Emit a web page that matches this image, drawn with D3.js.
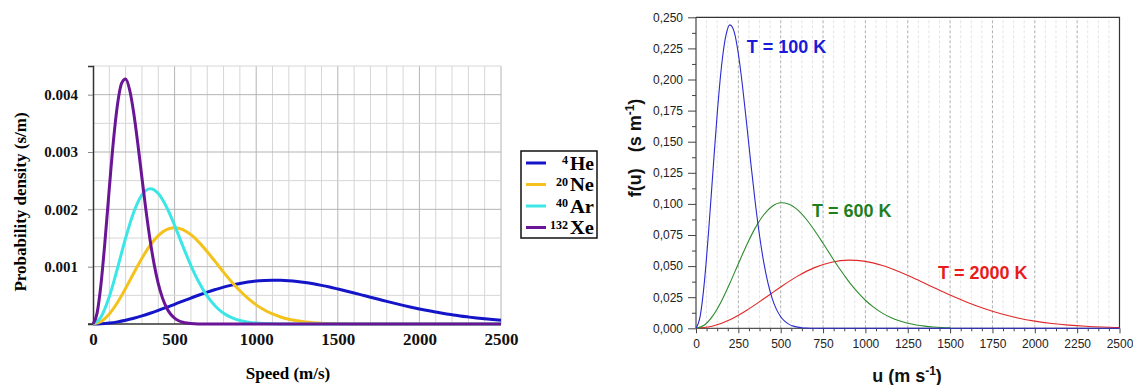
<!DOCTYPE html>
<html>
<head>
<meta charset="utf-8">
<script src="https://cdn.jsdelivr.net/npm/d3@7"></script>
<style>
  html, body { margin: 0; padding: 0; background: #fff; }
  svg { display: block; }
</style>
</head>
<body>
<div id="chart"></div>
<script>
// ---- Data ----
// Left panel: noble gases, speeds every 50 m/s from 0 to 2500
const gasSpeeds = d3.range(0, 2501, 50);
const heValues = [0, 0.0000042, 0.0000167, 0.0000372, 0.0000652, 0.0001002, 0.000141, 0.000187, 0.000237, 0.000289,
  0.000344, 0.000399, 0.000453, 0.000506, 0.000556, 0.000601, 0.000643, 0.000678, 0.000708, 0.000732,
  0.000750, 0.000760, 0.000765, 0.000763, 0.000755, 0.000742, 0.000724, 0.000701, 0.000674, 0.000644,
  0.000611, 0.000577, 0.000541, 0.000504, 0.000467, 0.000431, 0.000394, 0.000359, 0.000325, 0.000293,
  0.000263, 0.000234, 0.000208, 0.000183, 0.000161, 0.000140, 0.000122, 0.000105, 0.0000906, 0.0000776, 0.0000661];
const neValues = [0, 0.0000452, 0.000176, 0.000376, 0.000623, 0.000889, 0.001147, 0.001371, 0.001541, 0.001645,
  0.00168, 0.001648, 0.001558, 0.001424, 0.001261, 0.001083, 0.000904, 0.000733, 0.000580, 0.000446,
  0.000334, 0.000245, 0.000175, 0.000122, 0.0000828, 0.0000551, 0.0000358, 0.0000228, 0.0000141, 0.0000086,
  0.000005, 0.0000028, 0.0000015, 0, 0, 0, 0, 0, 0, 0,
  0, 0, 0, 0, 0, 0, 0, 0, 0, 0, 0];
const arValues = [0, 0.000127, 0.000478, 0.000972, 0.001500, 0.001954, 0.002254, 0.00236, 0.002277, 0.002045,
  0.001721, 0.001363, 0.001020, 0.000723, 0.000486, 0.000311, 0.000189, 0.000110, 0.0000606, 0.0000321,
  0.0000162, 0.0000078, 0.0000036, 0.0000015, 0, 0, 0, 0, 0, 0,
  0, 0, 0, 0, 0, 0, 0, 0, 0, 0,
  0, 0, 0, 0, 0, 0, 0, 0, 0, 0, 0];
// Xe is narrow, so it gets a finer speed grid
const xeSpeeds = [0, 25, 50, 75, 100, 125, 150, 175, 200, 225, 250, 275, 300, 325, 350, 375, 400, 425, 450, 475,
  500, 525, 550, 575, 600, 650, 700, 2500];
const xeValues = [0, 0.000190, 0.000723, 0.001498, 0.002370, 0.003189, 0.003826, 0.004196, 0.004272, 0.004077,
  0.003671, 0.003135, 0.002546, 0.001974, 0.001462, 0.001036, 0.000704, 0.000460, 0.000288, 0.000174,
  0.000101, 0.0000563, 0.0000302, 0.0000156, 0.0000078, 0.0000017, 0, 0];

const gasNames = ['He', 'Ne', 'Ar', 'Xe'];
const gasMass = ['4', '20', '40', '132'];
const gasColors = ['#1414c8', '#f4c21c', '#3de6e6', '#6a1496'];
const leftXTicks = [0, 500, 1000, 1500, 2000, 2500];
const leftYTicks = [0.001, 0.002, 0.003, 0.004];

// Right panel: three temperatures
const t100Speeds = [0, 25, 50, 75, 100, 125, 150, 175, 200, 225, 250, 275, 300, 325, 350, 375, 400, 425, 450, 475,
  500, 525, 550, 575, 600, 625, 650, 700, 2500];
const t100Values = [0, 0.00991, 0.0379, 0.0790, 0.1263, 0.1721, 0.2098, 0.2344, 0.2439, 0.2385,
  0.2207, 0.1942, 0.1631, 0.1310, 0.1009, 0.0746, 0.0530, 0.0363, 0.0239, 0.0152,
  0.00933, 0.00552, 0.00316, 0.00174, 0.00093, 0.00048, 0.00024, 0.00005, 0];
const t600Speeds = d3.range(0, 1501, 50);
const t600Values = [0, 0.00261, 0.01016, 0.02178, 0.03621, 0.05188, 0.06722, 0.08074, 0.09129, 0.09812,
  0.10092, 0.09980, 0.09521, 0.08787, 0.07862, 0.06831, 0.05768, 0.04742, 0.03797, 0.02965,
  0.02256, 0.01678, 0.01219, 0.00864, 0.00599, 0.00406, 0.00269, 0.00174, 0.00110, 0.00068, 0.00041];
const t2000Speeds = d3.range(0, 2501, 100);
const t2000Values = [0, 0.00178, 0.00686, 0.01452, 0.02372, 0.03325, 0.04193, 0.04878, 0.05315, 0.05478,
  0.05377, 0.05049, 0.04551, 0.03950, 0.03306, 0.02674, 0.02092, 0.01585, 0.01164, 0.00830,
  0.00574, 0.00386, 0.00252, 0.00160, 0.00099, 0.00059];

const tempLabels = ['T = 100 K', 'T = 600 K', 'T = 2000 K'];
const tempColors = ['#2a2ad0', '#2e8b2e', '#e02828'];
const tempTextColors = ['#1a1ad8', '#1f7f1f', '#e81c1c'];
const tempLabelPos = [[300, 0.2215], [685, 0.0897], [1428, 0.0394]];
const rightXTicks = d3.range(0, 2501, 250);
const rightYTicks = d3.range(0, 0.2501, 0.025);

// ---- Layout ----
const W = 1133, H = 385;
const serif = '"Liberation Serif", "Times New Roman", serif';
const sans = '"Liberation Sans", Arial, sans-serif';

const svg = d3.select('#chart').append('svg')
  .attr('width', W).attr('height', H);

// ================= Left panel =================
const xL = d3.scaleLinear().domain([0, 2500]).range([93, 501]);
const yL = d3.scaleLinear().domain([0, 0.0045]).range([324, 66]);
const left = svg.append('g');

// grid
left.selectAll('.vgrid').data(d3.range(100, 2501, 100)).enter().append('line')
  .attr('x1', d => xL(d)).attr('x2', d => xL(d))
  .attr('y1', yL(0)).attr('y2', yL(0.0045))
  .attr('stroke', d => d % 500 === 0 ? '#b4b4b4' : '#d6d6d6')
  .attr('stroke-width', 1);
left.selectAll('.hgrid').data(d3.range(0.0005, 0.00451, 0.0005)).enter().append('line')
  .attr('x1', xL(0)).attr('x2', xL(2500))
  .attr('y1', d => yL(d)).attr('y2', d => yL(d))
  .attr('stroke', d => Math.round(d * 10000) % 10 === 0 ? '#b4b4b4' : '#d6d6d6')
  .attr('stroke-width', 1);

// axes
const axL = left.append('g').attr('transform', `translate(${xL(0)},0)`)
  .call(d3.axisLeft(yL).tickValues(leftYTicks).tickSize(5).tickPadding(10).tickFormat(d3.format('.3f')));
axL.select('.domain').attr('stroke', '#333').attr('stroke-width', 1.5);
axL.selectAll('.tick line').attr('stroke', '#888');
axL.selectAll('text').style('font-family', serif).style('font-weight', 'bold').style('font-size', '15px').attr('fill', '#111');

const axB = left.append('g').attr('transform', `translate(0,${yL(0)})`)
  .call(d3.axisBottom(xL).tickValues(leftXTicks).tickSize(0).tickPadding(9).tickFormat(d3.format('d')));
axB.select('.domain').attr('stroke', '#333').attr('stroke-width', 1.5).attr('d', `M${xL(0) - 5},0H${xL(2500)}`);
axB.selectAll('text').style('font-family', serif).style('font-weight', 'bold').style('font-size', '17px').attr('fill', '#111');

// curves
const lineL = d3.line().x(d => xL(d[0])).y(d => yL(d[1])).curve(d3.curveMonotoneX);
const gasSeries = [
  d3.zip(gasSpeeds, heValues),
  d3.zip(gasSpeeds, neValues),
  d3.zip(gasSpeeds, arValues),
  d3.zip(xeSpeeds, xeValues)
];
gasSeries.forEach((s, i) => {
  left.append('path').datum(s)
    .attr('d', lineL)
    .attr('fill', 'none')
    .attr('stroke', gasColors[i])
    .attr('stroke-width', 3)
    .attr('stroke-linejoin', 'round');
});

// axis titles
left.append('text')
  .attr('transform', 'translate(26,202) rotate(-90)')
  .attr('text-anchor', 'middle')
  .style('font-family', serif).style('font-weight', 'bold').style('font-size', '17px')
  .text('Probability density (s/m)');
left.append('text')
  .attr('x', 288).attr('y', 379)
  .attr('text-anchor', 'middle')
  .style('font-family', serif).style('font-weight', 'bold').style('font-size', '17px')
  .text('Speed (m/s)');

// legend
const legend = left.append('g').attr('transform', 'translate(521,151)');
legend.append('rect')
  .attr('width', 76).attr('height', 87)
  .attr('fill', '#fff').attr('stroke', '#111').attr('stroke-width', 1.5);
gasNames.forEach((name, i) => {
  const cy = 12 + i * 21.5;
  legend.append('line')
    .attr('x1', 5).attr('x2', 25).attr('y1', cy).attr('y2', cy)
    .attr('stroke', gasColors[i]).attr('stroke-width', 3);
  legend.append('text')
    .attr('x', 47).attr('y', cy + 1)
    .attr('text-anchor', 'end')
    .style('font-family', serif).style('font-weight', 'bold').style('font-size', '12px')
    .text(gasMass[i]);
  legend.append('text')
    .attr('x', 49).attr('y', cy + 6.5)
    .attr('textLength', 24).attr('lengthAdjust', 'spacingAndGlyphs')
    .style('font-family', serif).style('font-weight', 'bold').style('font-size', '19px')
    .text(name);
});

// ================= Right panel =================
const xR = d3.scaleLinear().domain([0, 2500]).range([696, 1119.5]);
const yR = d3.scaleLinear().domain([0, 0.25]).range([328.3, 17.3]);
const right = svg.append('g');

// dashed vertical grid: light at every minor tick, darker at each labelled tick
const minorX = d3.range(62.5, 2500, 62.5).filter(d => d % 250 !== 0);
right.selectAll('.mgrid').data(minorX).enter().append('line')
  .attr('x1', d => xR(d)).attr('x2', d => xR(d))
  .attr('y1', yR(0)).attr('y2', yR(0.25))
  .attr('stroke', '#e4e4e4').attr('stroke-dasharray', '3,2').attr('stroke-width', 1);
right.selectAll('.jgrid').data(rightXTicks.filter(d => d > 0 && d < 2500)).enter().append('line')
  .attr('x1', d => xR(d)).attr('x2', d => xR(d))
  .attr('y1', yR(0)).attr('y2', yR(0.25))
  .attr('stroke', '#b0b0b0').attr('stroke-dasharray', '3,2').attr('stroke-width', 1);

// frame top / right
right.append('path')
  .attr('d', `M${xR(0)},${yR(0.25)}H${xR(2500)}V${yR(0)}`)
  .attr('fill', 'none').attr('stroke', '#333').attr('stroke-width', 1.2);

// y axis
const commaFmt = d => d3.format('.3f')(d).replace('.', ',');
right.append('g').attr('transform', `translate(${xR(0)},0)`)
  .call(d3.axisLeft(yR).tickValues(d3.range(0.0125, 0.25, 0.025)).tickSize(4).tickFormat(''))
  .call(g => g.select('.domain').remove())
  .selectAll('line').attr('stroke', '#444');
const ayR = right.append('g').attr('transform', `translate(${xR(0)},0)`)
  .call(d3.axisLeft(yR).tickValues(rightYTicks).tickSize(8).tickPadding(5).tickFormat(commaFmt));
ayR.select('.domain').attr('stroke', '#444').attr('stroke-width', 1.2).attr('d', `M0,${yR(0)}V${yR(0.25)}`);
ayR.selectAll('.tick line').attr('stroke', '#444');
ayR.selectAll('text').style('font-family', sans).style('font-size', '12px').attr('fill', '#222');

// x axis
right.append('g').attr('transform', `translate(0,${yR(0)})`)
  .call(d3.axisBottom(xR).tickValues(minorX).tickSize(3).tickFormat(''))
  .call(g => g.select('.domain').remove())
  .selectAll('line').attr('stroke', '#444');
const axR = right.append('g').attr('transform', `translate(0,${yR(0)})`)
  .call(d3.axisBottom(xR).tickValues(rightXTicks).tickSize(5).tickPadding(6).tickFormat(d3.format('d')));
axR.select('.domain').attr('stroke', '#555').attr('stroke-width', 1.2).attr('d', `M${xR(0)},0H${xR(2500)}`);
axR.selectAll('.tick line').attr('stroke', '#444');
axR.selectAll('text').style('font-family', sans).style('font-size', '12px').attr('fill', '#222');

// curves
const lineR = d3.line().x(d => xR(d[0])).y(d => yR(d[1])).curve(d3.curveMonotoneX);
const tempSeries = [
  d3.zip(t100Speeds, t100Values),
  d3.zip(t600Speeds, t600Values),
  d3.zip(t2000Speeds, t2000Values)
];
[2, 1, 0].forEach(i => {
  right.append('path').datum(tempSeries[i])
    .attr('d', lineR)
    .attr('fill', 'none')
    .attr('stroke', tempColors[i])
    .attr('stroke-width', 1.1);
});

// temperature labels
tempLabels.forEach((t, i) => {
  right.append('text')
    .attr('x', xR(tempLabelPos[i][0])).attr('y', yR(tempLabelPos[i][1]))
    .attr('fill', tempTextColors[i])
    .style('font-family', sans).style('font-weight', 'bold').style('font-size', '18px')
    .text(t);
});

// axis titles
const yt = right.append('text')
  .attr('transform', 'translate(641,148) rotate(-90)')
  .attr('text-anchor', 'middle')
  .style('font-family', sans).style('font-weight', 'bold').style('font-size', '18px')
  .attr('fill', '#111');
yt.append('tspan').text('f(u)');
yt.append('tspan').attr('dx', 16).text('(s m');
yt.append('tspan').attr('dy', -7).style('font-size', '12px').text('-1');
yt.append('tspan').attr('dy', 7).text(')');

const xt = right.append('text')
  .attr('x', 907).attr('y', 382)
  .attr('text-anchor', 'middle')
  .style('font-family', sans).style('font-weight', 'bold').style('font-size', '18px')
  .attr('fill', '#111');
xt.append('tspan').text('u (m s');
xt.append('tspan').attr('dy', -7).style('font-size', '12px').text('-1');
xt.append('tspan').attr('dy', 7).text(')');
</script>
</body>
</html>
